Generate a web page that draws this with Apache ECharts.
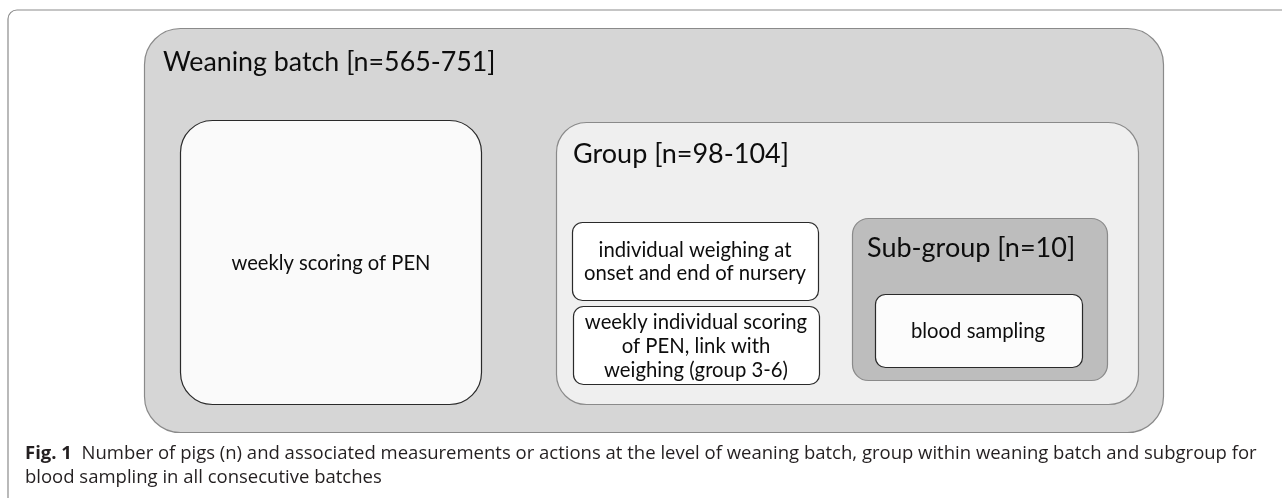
<!DOCTYPE html>
<html>
<head>
<meta charset="utf-8">
<script src="https://cdn.jsdelivr.net/npm/echarts@6/dist/echarts.min.js"></script>
<style>
html,body{margin:0;padding:0;background:#fff;}
#chart{width:1282px;height:498px;}
</style>
</head>
<body>
<div id="chart"></div>
<script>
// ---- content (data) ----
const levels = ['Weaning batch', 'Group', 'Sub-group'];
const pigCounts = ['565-751', '98-104', '10'];
const measurements = [
  'weekly scoring of PEN',
  'individual weighing at\nonset and end of nursery',
  'weekly individual scoring\nof PEN, link with\nweighing (group 3-6)',
  'blood sampling'
];
const captionLabel = 'Fig. 1';
const captionLines = [
  'Number of pigs (n) and associated measurements or actions at the level of weaning batch, group within weaning batch and subgroup for',
  'blood sampling in all consecutive batches'
];

// ---- layout / styles ----
const FONT = 'Lato, "Open Sans", sans-serif';
const CAPFONT = '"Open Sans", "Noto Sans", sans-serif';
function levelTitle(i) { return levels[i] + ' [n=' + pigCounts[i] + ']'; }

function box(x, y, w, h, r, fill, stroke, z) {
  return { type: 'rect', shape: { x: x, y: y, width: w, height: h, r: r },
           style: { fill: fill, stroke: stroke, lineWidth: 1.2 }, z: z, silent: true };
}
function label(x, y, text, size, align, z, lh) {
  return { type: 'text', x: x, y: y, z: z, silent: true,
           style: { text: text, fill: '#0d0d0d', fontFamily: FONT, fontSize: size,
                    align: align, verticalAlign: 'middle', lineHeight: lh || size * 1.2 } };
}

const chart = echarts.init(document.getElementById('chart'), null, { renderer: 'canvas' });
const option = {
  backgroundColor: '#ffffff',
  animation: false,
  graphic: [
    // outer figure frame (only top/left visible)
    box(8, 10, 1300, 520, 9, 'none', '#8c8c8c', 1),
    // weaning batch
    box(144.5, 28.5, 1019, 404, 36, '#d6d6d6', '#8a8a8a', 2),
    label(163, 62, levelTitle(0), 26.8, 'left', 10),
    // weekly scoring box
    box(180.5, 120.5, 301, 284, 32, '#fafafa', '#2a2a2a', 3),
    label(331, 263, measurements[0], 20.2, 'center', 10),
    // group
    box(556.5, 122.5, 582, 282, 30, '#efefef', '#8a8a8a', 3),
    label(573, 154, levelTitle(1), 27, 'left', 10),
    box(572.5, 222.5, 246, 78, 10, '#ffffff', '#2a2a2a', 4),
    label(695, 262, measurements[1], 20.3, 'center', 10, 23),
    box(573.5, 306.5, 246, 78, 10, '#ffffff', '#2a2a2a', 4),
    label(696, 346, measurements[2], 20.3, 'center', 10, 24),
    // sub-group
    box(852.5, 218.5, 255, 162, 16, '#bdbdbd', '#8a8a8a', 4),
    label(867, 248, levelTitle(2), 27, 'left', 10),
    box(875.5, 294.5, 207, 73, 10, '#fcfcfc', '#2a2a2a', 5),
    label(978, 331, measurements[3], 20.3, 'center', 10),
    // caption
    { type: 'text', x: 25, y: 442, z: 10, silent: true,
      style: { text: '{b|' + captionLabel + '}  ' + captionLines[0] + '\n' + captionLines[1],
               fill: '#231f20', fontFamily: CAPFONT, fontSize: 18.5, lineHeight: 24,
               align: 'left', verticalAlign: 'top',
               rich: { b: { fontFamily: CAPFONT, fontSize: 18.5, fontWeight: 'bold', fill: '#231f20', lineHeight: 24 } } } }
  ]
};
chart.setOption(option);
</script>
</body>
</html>
